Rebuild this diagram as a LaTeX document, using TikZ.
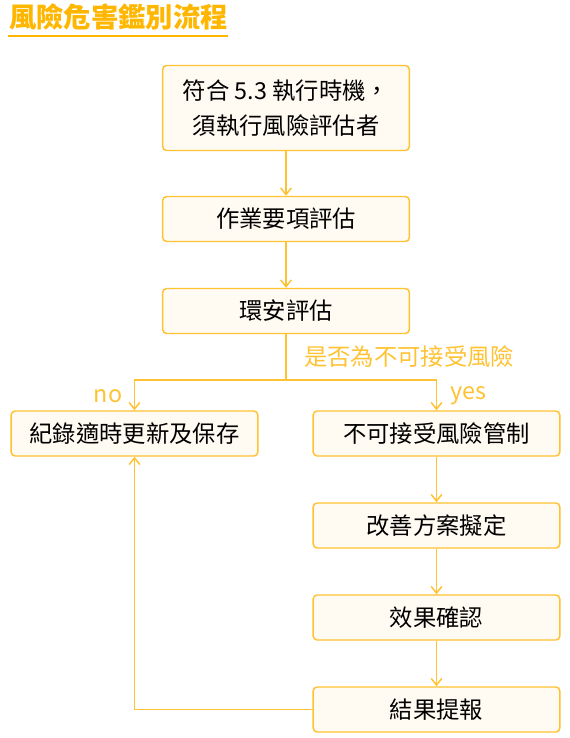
\documentclass[tikz,border=0pt]{standalone}
\usepackage{fontspec}
\setmainfont{Noto Sans CJK TC}
\usetikzlibrary{arrows.meta}
\definecolor{linecol}{HTML}{FFC233}
\definecolor{boxfill}{HTML}{FFFBF2}
\definecolor{titlecol}{HTML}{FFB600}

\begin{document}
\begin{tikzpicture}[x=0.75pt,y=-0.75pt,
	box/.style={draw=linecol,fill=boxfill,line width=1.1pt,rounded corners=3pt,minimum width=185pt,minimum height=33.75pt,inner sep=0pt,align=center,font=\fontsize{17.5}{26}\selectfont},
	flow/.style={draw=linecol,line width=1.1pt,-{Straight Barb[length=5pt,width=8pt]}},
	lbl/.style={text=linecol,font=\fontsize{17.5}{20}\selectfont}]
\useasboundingbox (0,0) rectangle (569,738);
% title
\node[anchor=west,inner sep=0pt,text=titlecol,font=\bfseries\fontsize{20.5}{24}\selectfont] (title) at (9,17) {風險危害鑑別流程};
\draw[titlecol,line width=1.2pt] (8,36) -- (228,36);
% boxes
\node[box,minimum height=63.75pt] (check) at (286,108) {符合 5.3 執行時機，\\須執行風險評估者};
\node[box] (item) at (286,219) {作業要項評估};
\node[box] (env) at (286,311) {環安評估};
\node[box] (record) at (134.5,433.5) {紀錄適時更新及保存};
\node[box] (control) at (436.5,433.5) {不可接受風險管制};
\node[box] (improve) at (436.5,525.5) {改善方案擬定};
\node[box] (confirm) at (436.5,617.5) {效果確認};
\node[box] (report) at (436.5,709.5) {結果提報};
% arrows
\draw[flow] (check) -- (item);
\draw[flow] (item) -- (env);
\coordinate (split) at (286,380);
\draw[linecol,line width=1.1pt] (env) -- (split);
\draw[flow] (split) -| (record);
\draw[flow] (split) -| (control);
\draw[flow] (control) -- (improve);
\draw[flow] (improve) -- (confirm);
\draw[flow] (confirm) -- (report);
\draw[flow] (report.west) -| (record.south);
% labels
\node[lbl,anchor=west,inner sep=0pt] (question) at (304,357) {是否為不可接受風險};
\node[lbl] (no) at (108,396) {no};
\node[lbl] (yes) at (468,396) {yes};
\end{tikzpicture}
\end{document}
